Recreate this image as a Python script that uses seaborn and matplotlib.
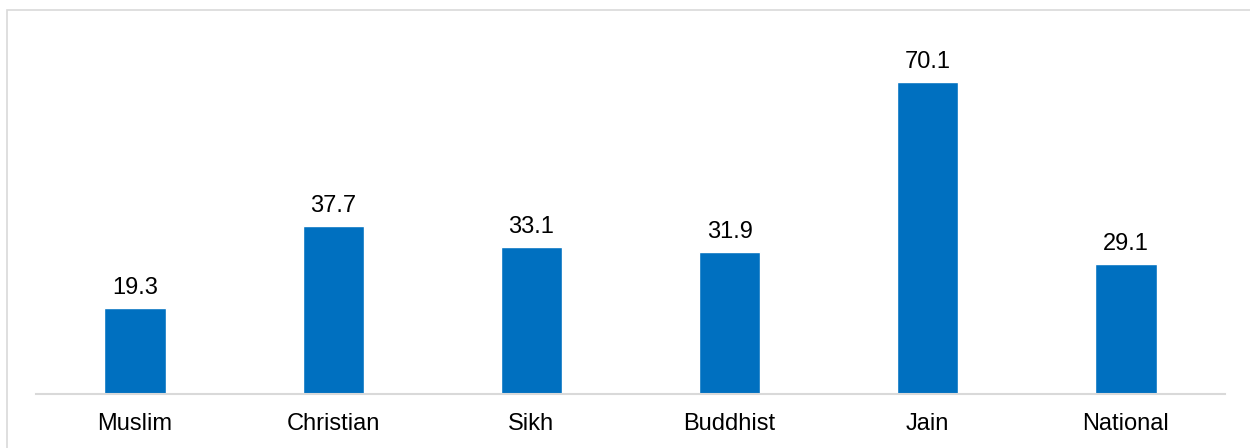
import matplotlib
matplotlib.use("Agg")
import matplotlib.pyplot as plt
import seaborn as sns
import pandas as pd
from matplotlib.patches import Rectangle

categories = ["Muslim", "Christian", "Sikh", "Buddhist", "Jain", "National"]
values = [19.3, 37.7, 33.1, 31.9, 70.1, 29.1]

sns.set_theme(style="white")
plt.rcParams['font.family'] = ['Liberation Sans', 'DejaVu Sans']

df = pd.DataFrame({"cat": categories, "val": values})

fig = plt.figure(figsize=(12.5, 4.48), dpi=100)
ax = fig.add_axes([36/1250, 54/448, (1225-36)/1250, (394-30)/448])
sns.barplot(data=df, x="cat", y="val", color="#0070C0", saturation=1, width=0.31, ax=ax)
ax.set_ylim(0, 70.1 * 364 / 312)
ax.set_xlim(-0.5, len(categories) - 0.5)
for i, v in enumerate(values):
    ax.annotate(f"{v:.1f}", (i, v), xytext=(0, 6.5), textcoords="offset points",
                ha="center", va="bottom", fontsize=17, color="#000000")
ax.set_xlabel("")
ax.set_ylabel("")
ax.set_yticks([])
ax.tick_params(axis="x", length=0, pad=13.5, labelsize=17, labelcolor="#000000")
for s in ["top", "right", "left"]:
    ax.spines[s].set_visible(False)
ax.spines["bottom"].set_color("#d9d9d9")
ax.spines["bottom"].set_linewidth(1.5)

fig.patches.append(Rectangle((6.5/1250, -0.5), 2, 1 - 10.5/448 + 0.5, transform=fig.transFigure,
                             fill=False, edgecolor="#d9d9d9", linewidth=1.2))
fig.savefig("out.png", dpi=100)
